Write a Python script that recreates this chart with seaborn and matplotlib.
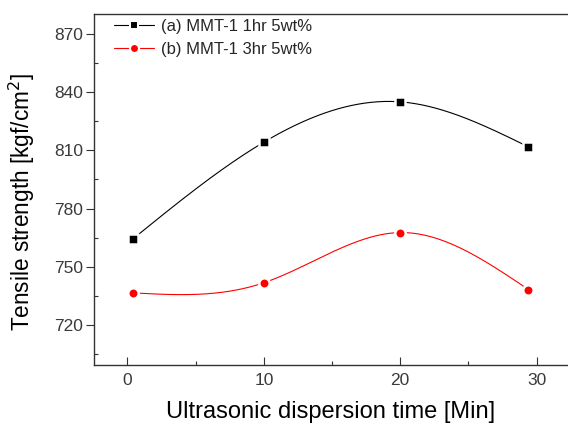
import numpy as np
import pandas as pd
import matplotlib
matplotlib.use("Agg")
import matplotlib.pyplot as plt
from matplotlib.lines import Line2D
import seaborn as sns

# data
time_a = [0.4, 10.0, 20.0, 29.4]
strength_a = [764.3, 814.2, 835.0, 811.8]
time_b = [0.4, 10.0, 20.0, 29.4]
strength_b = [736.5, 741.7, 767.6, 738.2]
labels = ["(a) MMT-1 1hr 5wt%", "(b) MMT-1 3hr 5wt%"]
xticks = [0, 10, 20, 30]
yticks = [720, 750, 780, 810, 840, 870]

sns.set_theme(style="white")
plt.rcParams['font.family'] = ['Liberation Sans', 'DejaVu Sans']

fig = plt.figure(figsize=(5.68, 4.28), dpi=100)
ax = fig.add_axes([94/568, 63/428, 1 - 94/568, 351/428])


def natural_spline(x, y, n=300):
    x = np.asarray(x, float)
    y = np.asarray(y, float)
    m = len(x)
    h = np.diff(x)
    A = np.zeros((m, m))
    b = np.zeros(m)
    A[0, 0] = A[-1, -1] = 1
    for i in range(1, m - 1):
        A[i, i - 1] = h[i - 1]
        A[i, i] = 2 * (h[i - 1] + h[i])
        A[i, i + 1] = h[i]
        b[i] = 6 * ((y[i + 1] - y[i]) / h[i] - (y[i] - y[i - 1]) / h[i - 1])
    M = np.linalg.solve(A, b)
    xs = np.linspace(x[0], x[-1], n)
    idx = np.clip(np.searchsorted(x, xs) - 1, 0, m - 2)
    x0, x1 = x[idx], x[idx + 1]
    hh = x1 - x0
    ys = (M[idx] * (x1 - xs) ** 3 / (6 * hh) + M[idx + 1] * (xs - x0) ** 3 / (6 * hh)
          + (y[idx] / hh - M[idx] * hh / 6) * (x1 - xs)
          + (y[idx + 1] / hh - M[idx + 1] * hh / 6) * (xs - x0))
    return xs, ys


for x, y, col, mk, ms in [(time_a, strength_a, "black", "s", 7),
                          (time_b, strength_b, "red", "o", 7.5)]:
    xs, ys = natural_spline(x, y)
    sns.lineplot(x=xs, y=ys, ax=ax, color=col, lw=0.8, sort=False, legend=False)
    sns.scatterplot(x=x, y=y, ax=ax, color=col, marker=mk, s=ms**2,
                    edgecolor='white', linewidth=1.8, legend=False, zorder=3)

ax.set_xlim(-2.45, 32.3)
ax.set_ylim(699.3, 880.3)
ax.set_xticks(xticks)
ax.set_yticks(yticks)
ax.set_xticks([5, 15, 25], minor=True)
ax.set_yticks([705, 735, 765, 795, 825, 855], minor=True)
ax.tick_params(axis='both', which='both', bottom=True, left=True,
               color='#333333', width=0.8)
ax.tick_params(axis='y', which='major', direction='out', length=6, pad=2,
               labelsize=12.5, labelcolor='#3a3a3a')
ax.tick_params(axis='y', which='minor', direction='in', length=3)
ax.tick_params(axis='x', which='major', direction='in', length=6, pad=6,
               labelsize=12.5, labelcolor='#3a3a3a')
ax.tick_params(axis='x', which='minor', direction='in', length=3)
for s in ['left', 'bottom', 'top']:
    ax.spines[s].set_color('#333333')
    ax.spines[s].set_linewidth(1.0)
ax.spines['right'].set_visible(False)

ax.set_xlabel("Ultrasonic dispersion time [Min]", fontsize=17, labelpad=9, color='black')
ax.set_ylabel("Tensile strength [kgf/cm$^2$]", fontsize=16.3, color='black')
ax.yaxis.set_label_coords(-0.12, 0.464)

handles = [Line2D([], [], color='black', lw=0.8, marker='s', markersize=6,
                  markeredgecolor='white', markeredgewidth=1.5),
           Line2D([], [], color='red', lw=0.8, marker='o', markersize=6.5,
                  markeredgecolor='white', markeredgewidth=1.5)]
ax.legend(handles, labels, loc='upper left', frameon=False, fontsize=12,
          handlelength=2.4, handletextpad=0.4, labelspacing=0.45,
          borderaxespad=0.0, borderpad=0.2, bbox_to_anchor=(0.035, 0.995))

fig.savefig("out.png", dpi=100)
